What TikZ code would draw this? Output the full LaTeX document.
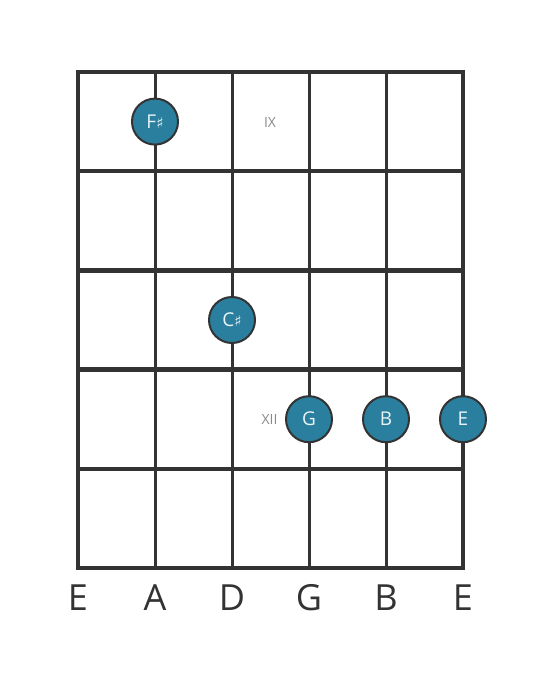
\documentclass[tikz,border=0pt]{standalone}
\usepackage{fontspec}
\setmainfont{Open Sans}
\newfontfamily\symfont{DejaVu Sans}
\usepackage{tikz}
\usetikzlibrary{positioning}
\definecolor{gridgray}{HTML}{333333}
\definecolor{noteblue}{HTML}{2A7F9E}
\definecolor{notetext}{HTML}{EAF4F7}
\definecolor{labelgray}{HTML}{8A8A8A}
\newcommand{\shp}{{\symfont\fontsize{15pt}{15pt}\selectfont ♯}}

\begin{document}
\begin{tikzpicture}[x=1pt,y=-1pt,
    note/.style={circle, draw=gridgray, line width=2pt, fill=noteblue,
      minimum size=46pt, inner sep=0pt, text=notetext,
      font=\fontsize{19pt}{19pt}\selectfont},
    fretlabel/.style={text=labelgray, font=\fontsize{14pt}{14pt}\selectfont},
    stringname/.style={text=gridgray, font=\fontsize{36pt}{36pt}\selectfont}]
  \useasboundingbox (0,0) rectangle (559,682);
  % strings
  \foreach \s in {0,...,5}
    \draw[gridgray, line width=3pt] (78+77*\s,72) -- (78+77*\s,568);
  \draw[gridgray, line width=4pt] (78,70) -- (78,570);
  \draw[gridgray, line width=4pt] (463,70) -- (463,570);
  % frets
  \foreach \f in {0,...,5}
    \draw[gridgray, line width=4.5pt] (76,72+99.2*\f) -- (465,72+99.2*\f);
  % notes
  \node[note] (fs) at (155,121.6) {F\shp};
  \node[note] (cs) at (232,320) {C\shp};
  \node[note] (g) at (309,419.2) {G};
  \node[note] (b) at (386,419.2) {B};
  \node[note] (e) at (463,419.2) {E};
  % fret numbers
  \node[fretlabel] (ix) at (270,122.5) {IX};
  \node[fretlabel, left=4pt of g] (xii) {XII};
  % string names
  \foreach \n [count=\i from 0] in {E,A,D,G,B,E}
    \node[stringname] (str\i) at (78+77*\i,598) {\n};
\end{tikzpicture}
\end{document}
